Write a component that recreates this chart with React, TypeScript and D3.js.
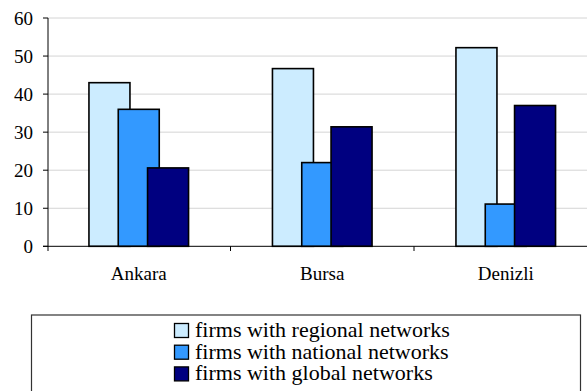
import React from "react";
import * as d3 from "d3";

const categories = ["Ankara", "Bursa", "Denizli"];
const seriesNames = [
  "firms with regional networks",
  "firms with national networks",
  "firms with global networks",
];
const regional = [43, 46.7, 52.2];
const national = [36, 22, 11.1];
const global = [20.6, 31.4, 37];
const yTicks = [0, 10, 20, 30, 40, 50, 60];
const colors = ["#CCECFF", "#3399FF", "#000080"];

const W = 587;
const H = 391;
const FONT = "'Liberation Serif'";

export default function App() {
  const series = [regional, national, global];
  const x = d3.scaleBand<string>().domain(categories).range([47, 597.5]).padding(0);
  const y = d3.scaleLinear().domain([0, 60]).range([246.3, 18]);
  const off = d3.scaleLinear().domain([0, 2]).range([-29.3, 29.3]);
  const barW = 41;
  const x0 = 48;
  const xEnd = W;
  const ts = { fontFamily: FONT };

  return (
    <svg
      width={W}
      height={H}
      style={{ position: "absolute", left: 0, top: 0, background: "#fff" }}
    >
      {yTicks.filter((t) => t > 0).map((t) => (
        <line key={"g" + t} x1={x0} x2={xEnd} y1={y(t)} y2={y(t)} stroke="#d4d4d4" strokeWidth={1} />
      ))}
      {series.map((vals, si) =>
        categories.map((c, ci) => {
          const cx = (x(c) as number) + x.bandwidth() / 2 + off(si);
          return (
            <rect
              key={si + "-" + ci}
              x={cx - barW / 2}
              y={y(vals[ci])}
              width={barW}
              height={y(0) - y(vals[ci])}
              fill={colors[si]}
              stroke="#000"
              strokeWidth={1.6}
            />
          );
        })
      )}
      <line x1={x0} x2={x0} y1={y(60)} y2={251} stroke="#000" strokeWidth={1} />
      <line x1={43} x2={xEnd} y1={y(0)} y2={y(0)} stroke="#000" strokeWidth={1} />
      {yTicks.map((t) => (
        <g key={"t" + t}>
          <line x1={43} x2={x0} y1={y(t)} y2={y(t)} stroke="#000" strokeWidth={1} />
          <text x={33} y={y(t)} dy="0.35em" textAnchor="end" fontSize={19} fill="#000" style={ts}>
            {t}
          </text>
        </g>
      ))}
      {categories.slice(1).map((c) => (
        <line key={"ct" + c} x1={x(c) as number} x2={x(c) as number} y1={y(0)} y2={251} stroke="#000" strokeWidth={1} />
      ))}
      {categories.map((c) => (
        <text key={"cl" + c} x={(x(c) as number) + x.bandwidth() / 2} y={280} textAnchor="middle" fontSize={19} fill="#000" style={ts}>
          {c}
        </text>
      ))}
      <rect x={31.5} y={315} width={549} height={90} fill="#fff" stroke="#333" strokeWidth={1.2} />
      {seriesNames.map((n, i) => (
        <g key={"lg" + i}>
          <rect x={174.5} y={323.5 + i * 21.7} width={14} height={14} fill={colors[i]} stroke="#000" strokeWidth={1.3} />
          <text x={195} y={337 + i * 21.7} fontSize={22} fill="#000" style={ts}>
            {n}
          </text>
        </g>
      ))}
    </svg>
  );
}
